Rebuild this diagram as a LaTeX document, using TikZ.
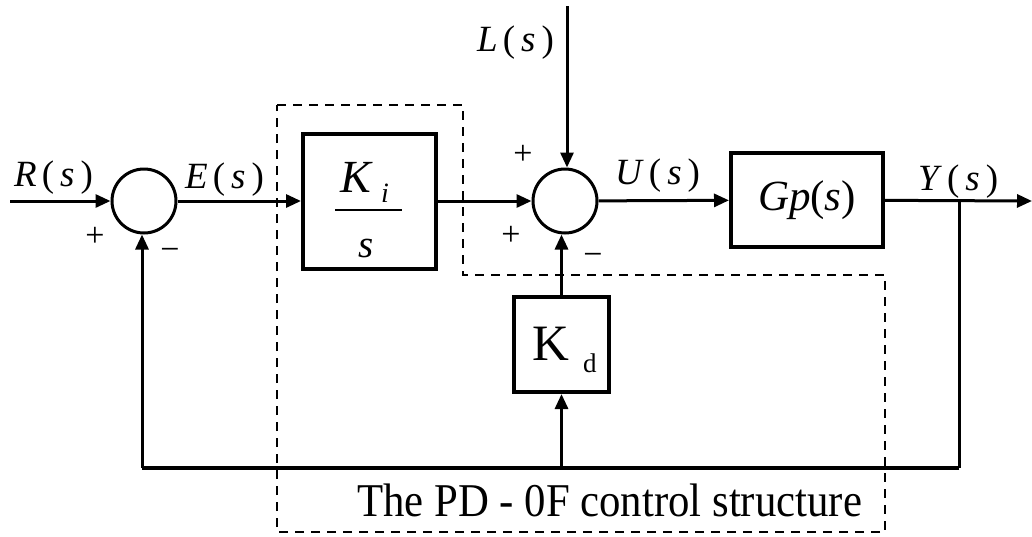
\documentclass[tikz,border=0pt]{standalone}
\usepackage{fontspec}
\setmainfont{Liberation Serif}
\usetikzlibrary{arrows.meta}
\newcommand{\sigl}[2]{\textit{#1}\hspace{5pt}(\hspace{6pt}\textit{#2}\hspace{6pt})}
\tikzset{
  sig/.style={line width=3pt,-{Triangle[length=15pt,width=13pt]}},
  wire/.style={line width=3pt},
  blk/.style={draw,line width=4pt,rectangle,inner sep=0pt},
  sumc/.style={draw,line width=3pt,circle,minimum size=64pt,inner sep=0pt},
  lbl/.style={anchor=base west,inner sep=0pt,font=\fontsize{37}{40}\selectfont},
  sgn/.style={inner sep=0pt,font=\fontsize{34}{38}\selectfont},
  dashbox/.style={line width=2.5pt,dash pattern=on 9pt off 7pt}
}
\begin{document}
\begin{tikzpicture}[x=1pt,y=-1pt]
\useasboundingbox (0,0) rectangle (1032,536);
% dashed structure
\draw[dashbox] (277,105) -- (463,105) -- (463,275) -- (885,275) -- (885,532) -- (277,532) -- cycle;
% nodes
\coordinate (in) at (10,201);
\node[sumc] (s1) at (144,201) {};
\node[blk,minimum width=133pt,minimum height=135pt] (ki) at (369.5,201) {};
\node[sumc] (s2) at (565,201) {};
\node[blk,minimum width=152pt,minimum height=94pt] (gp) at (807,200)
  {\fontsize{43}{46}\selectfont\textit{Gp}(\textit{s})};
\node[blk,minimum width=95pt,minimum height=95pt] (kd) at (561.5,344.5) {};
\coordinate (br) at (959,201);
\coordinate (out) at (1032,201);
\coordinate (ltop) at (567,6);
\coordinate (brb) at (959,468);
\coordinate (fbl) at (142,468);
\coordinate (kdb) at (561.5,468);
% Ki / s contents
\node[anchor=base west,inner sep=0pt,font=\fontsize{46}{50}\selectfont] (kK) at (340,192) {\textit{K}};
\node[anchor=base west,inner sep=0pt,font=\fontsize{28}{30}\selectfont] (ki2) at (381,202) {\textit{i}};
\coordinate (fl1) at (335,210);
\coordinate (fl2) at (402,210);
\draw[line width=2pt] (fl1) -- (fl2);
\node[anchor=base,inner sep=0pt,font=\fontsize{39}{42}\selectfont] (ks) at (366,257) {\textit{s}};
% Kd contents
\node[anchor=base west,inner sep=0pt,font=\fontsize{51}{54}\selectfont] (kdK) at (532,360) {K};
\node[anchor=base west,inner sep=0pt,font=\fontsize{27}{30}\selectfont] (kdd) at (583,372) {d};
% connectors
\draw[sig] (in) -- (s1);
\draw[sig] (s1) -- (ki);
\draw[sig] (ki) -- (s2);
\draw[sig] (s2) -- (gp);
\draw[sig] (gp) -- (out);
\draw[sig] (ltop) -- (ltop |- s2.north);
\draw[sig] (kd.north) -- (kd.north |- s2.south);
\draw[wire] (br) -- (brb);
\draw[line width=4pt] (brb) -- (fbl);
\draw[sig] (fbl) -- (fbl |- s1.south);
\draw[sig] (kdb) -- (kd.south);
% labels
\node[lbl] (lR) at (14,186) {\sigl{R}{s}};
\node[lbl] (lE) at (185,188) {\sigl{E}{s}};
\node[lbl] (lL) at (477,51) {\sigl{L}{s}};
\node[lbl] (lU) at (615,184) {\sigl{U}{s}};
\node[lbl] (lY) at (918,190) {\sigl{Y}{s}};
\node[sgn] (p1) at (95,237) {+};
\node[sgn] (m1) at (170,254) {−};
\node[sgn] (p2) at (523,155) {+};
\node[sgn] (p3) at (511,236) {+};
\node[sgn] (m2) at (593,259) {−};
\node[anchor=base west,inner sep=0pt] (title) at (357,516)
  {\scalebox{0.91}[1]{\fontsize{47}{50}\selectfont The PD - 0F control structure}};
\end{tikzpicture}
\end{document}
